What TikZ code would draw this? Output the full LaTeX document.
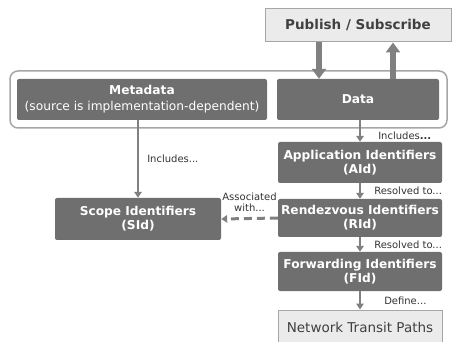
\documentclass[tikz,border=0pt]{standalone}
\usepackage{fontspec}
\setmainfont{DejaVu Sans}
\usetikzlibrary{arrows.meta}

\definecolor{boxgray}{HTML}{6F6F6F}
\definecolor{linegray}{HTML}{808080}
\definecolor{lightgray}{HTML}{EBEBEB}
\definecolor{framegray}{HTML}{A6A6A6}

\tikzstyle{block} = [fill=boxgray, rectangle, rounded corners=2pt, text=white,
    font=\fontsize{12.2}{14}\selectfont\bfseries, align=center,
    minimum height=41pt, minimum width=164pt, inner sep=0pt]
\tikzstyle{plain} = [draw=framegray, fill=lightgray, rectangle, line width=1pt,
    text=black!75, align=center, inner sep=0pt]
\tikzstyle{link} = [draw=linegray, line width=2.5pt, -{Triangle[length=6pt,width=7.5pt]}]
\tikzstyle{fatlink} = [draw=linegray, line width=5.5pt, -{Triangle[length=10pt,width=14pt]}]
\tikzstyle{note} = [font=\fontsize{10}{11.5}\selectfont, text=black!80, inner sep=1pt]

\begin{document}
\begin{tikzpicture}[x=1pt, y=-1pt]
    \useasboundingbox (0,0) rectangle (453,342);
    % publish / subscribe on top
    \node [plain, minimum width=186pt, minimum height=33pt,
        font=\fontsize{13.5}{15}\selectfont\bfseries] (pubsub) at (358,25.5) {Publish / Subscribe};
    % outer frame
    \draw [framegray, line width=1.5pt, rounded corners=8pt] (10,71) rectangle (447,128);
    \node [block, minimum width=250pt, font=\fontsize{12.2}{16}\selectfont\bfseries] (meta) at (142,99.5)
        {Metadata\\{\mdseries (source is implementation-dependent)}};
    \node [block, minimum width=162pt] (data) at (358,99.5) {Data};
    % identifiers
    \node [block, minimum width=166pt, minimum height=42pt] (scope) at (138,219) {Scope Identifiers\\(SId)};
    \node [block] (aid) at (360,162.5) {Application Identifiers\\(AId)};
    \node [block, minimum height=38pt] (rid) at (360,218) {Rendezvous Identifiers\\(RId)};
    \node [block, minimum height=39pt] (fid) at (360,271.5) {Forwarding Identifiers\\(FId)};
    \node [plain, minimum width=164pt, minimum height=34pt,
        font=\fontsize{13.5}{15}\selectfont] (paths) at (360,327) {Network Transit Paths};
    % connections
    \draw [fatlink] ([xshift=-39pt]pubsub.south) -- ([xshift=-39pt]data.north);
    \draw [fatlink] ([xshift=35pt]data.north) -- ([xshift=35pt]pubsub.south);
    \draw [link] (meta.south -| scope.north) -- node [note, right=7pt] {Includes...} (scope.north);
    \draw [link] (data.south -| aid.north) -- node [note, right=16pt, pos=0.7] {Includes\textbf{...}} (aid.north);
    \draw [link] (aid) -- node [note, right=12pt, pos=0.5] {Resolved to...} (rid);
    \draw [link] (rid) -- node [note, right=12pt, pos=0.5] {Resolved to...} (fid);
    \draw [link] (fid) -- node [note, right=22pt, pos=0.5] {Define...} (paths);
    \draw [link, line width=3pt, dash pattern=on 8pt off 5pt] (rid.west) --
        node [note, above=4pt, align=center] {Associated\\with...} (scope.east);
\end{tikzpicture}
\end{document}
